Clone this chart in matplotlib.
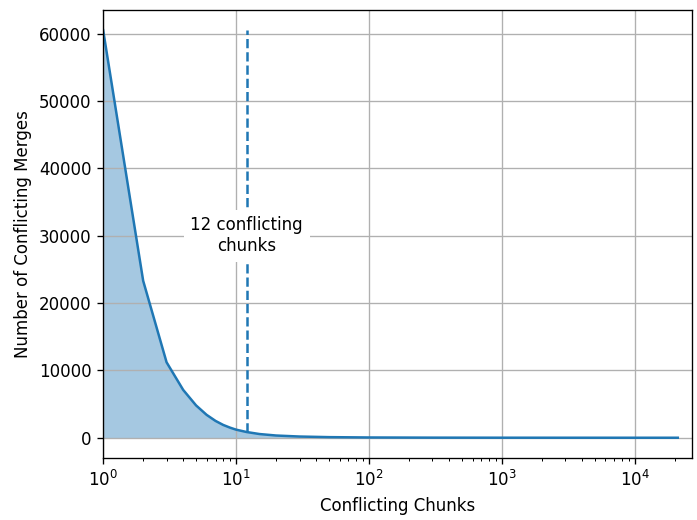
import numpy as np
import matplotlib.pyplot as plt

# conflicting chunks per merge -> number of merges
chunks = [1, 2, 3, 4, 5, 6, 7, 8, 9, 10, 12, 15, 20, 30, 50, 100, 300, 1000, 3000, 10000, 21000]
merges = [60500, 23300, 11200, 7100, 4800, 3400, 2500, 1900, 1500, 1200, 850, 550, 330, 180, 90, 40, 15, 6, 3, 1, 1]
threshold = 12

fig = plt.figure(figsize=(697 / 120, 520 / 120), dpi=120)
ax = fig.add_axes([0.148, 0.119, 0.845, 0.862])

ax.plot(chunks, merges, color='C0')
ax.fill_between(chunks, merges, 0, color='C0', alpha=0.4, linewidth=0)

y_thr = merges[chunks.index(threshold)]
ax.vlines(threshold, y_thr, max(merges), colors='C0', linestyles='dashed')
ax.text(threshold, 30000, '12 conflicting\nchunks', ha='center', va='center',
        fontsize=10, bbox=dict(facecolor='white', edgecolor='none'))

ax.set_xscale('log')
ax.set_xlim(1, 10 ** 4.43)
ax.set_xlabel('Conflicting Chunks')
ax.set_ylabel('Number of Conflicting Merges')
ax.grid(True)

plt.savefig('out.png', dpi=120)
